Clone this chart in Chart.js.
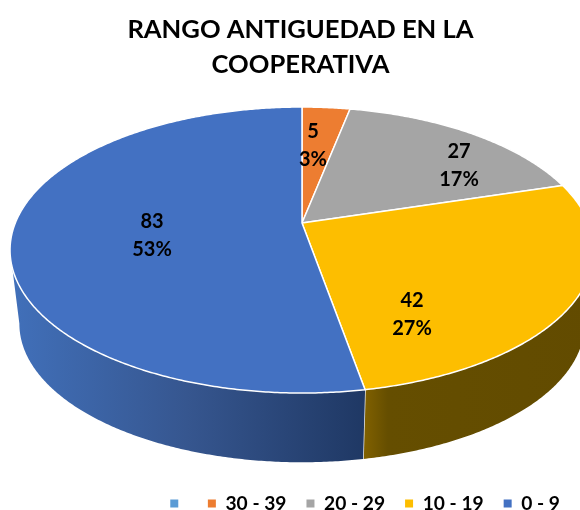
<!DOCTYPE html>
<html lang="es">
<head>
<meta charset="utf-8">
<title>Rango antiguedad en la cooperativa</title>
<script src="https://cdn.jsdelivr.net/npm/chart.js@4.4.1/dist/chart.umd.js"></script>
<style>
  html, body { margin: 0; padding: 0; background: #fff; }
  canvas { display: block; }
</style>
</head>
<body>
<canvas id="pieChart" width="580" height="510"></canvas>
<script>
const titleLines = ['RANGO ANTIGUEDAD EN LA', 'COOPERATIVA'];
const categories = ['', '30 - 39', '20 - 29', '10 - 19', '0 - 9'];
const values = [0, 5, 27, 42, 83];
const sliceColors = ['#5b9bd5', '#ed7d31', '#a5a5a5', '#fdbe00', '#4371c2'];

// Camera of the tilted pie: top disc, then the lower disc scaled from it
const view = { cx: 302, cy: 223, rx: 286.7, ry: 137.9, tilt: 0.189, shrink: 0.968, drop: 81.8 };
// The wall can only be seen between these two angles
const wallFrom = Math.PI / 2 - Math.acos(view.tilt);
const wallTo = Math.PI - wallFrom;

// Label centres, one per category
const labelSpots = [null, [313, 145], [459, 165], [412, 314], [152, 235]];

// Wall shading, left to right
const wallStops = {
  3: [[0, '#7f6000'], [0.1, '#654e00'], [1, '#624b00']],
  4: [[0, '#4170ba'], [0.5, '#36568f'], [1, '#1f3864']]
};

function project(angle, radius, lower) {
  const u = Math.cos(angle) * radius;
  const v = Math.sin(angle) * radius;
  const w = 1 - view.tilt * v;
  const x = view.cx + view.rx * u / w;
  const y = view.cy + view.ry * v / w;
  if (!lower) return [x, y];
  return [view.cx + view.shrink * (x - view.cx), view.shrink * y + view.drop];
}

function traceEdge(ctx, from, to, lower) {
  const steps = Math.max(2, Math.ceil(Math.abs(to - from) * 120));
  for (let i = 0; i <= steps; i++) {
    const p = project(from + (to - from) * i / steps, 1, lower);
    ctx.lineTo(p[0], p[1]);
  }
}

const perspectivePie = {
  id: 'perspectivePie',
  beforeDatasetsDraw(chart) {
    const ctx = chart.ctx;
    const arcs = chart.getDatasetMeta(0).data;
    ctx.save();
    ctx.lineJoin = 'round';

    // Walls first, the discs go on top of them
    arcs.forEach((arc, i) => {
      const from = Math.max(arc.startAngle, wallFrom);
      const to = Math.min(arc.endAngle, wallTo);
      if (to <= from || !wallStops[i]) return;
      const xa = project(from, 1, false)[0];
      const xb = project(to, 1, false)[0];
      const grad = ctx.createLinearGradient(Math.min(xa, xb), 0, Math.max(xa, xb), 0);
      wallStops[i].forEach(s => grad.addColorStop(s[0], s[1]));
      ctx.beginPath();
      traceEdge(ctx, from, to, false);
      traceEdge(ctx, to, from, true);
      ctx.closePath();
      ctx.fillStyle = grad;
      ctx.fill();
      // Seam between two walls
      if (arc.endAngle < wallTo) {
        const a = project(arc.endAngle, 1, false);
        const b = project(arc.endAngle, 1, true);
        ctx.beginPath();
        ctx.moveTo(a[0], a[1]);
        ctx.lineTo(b[0], b[1]);
        ctx.strokeStyle = '#e8e8e8';
        ctx.lineWidth = 1.5;
        ctx.stroke();
      }
    });

    // Top disc, one wedge per element computed by the controller
    arcs.forEach(arc => {
      if (arc.endAngle <= arc.startAngle) return;
      ctx.beginPath();
      ctx.moveTo(view.cx, view.cy);
      traceEdge(ctx, arc.startAngle, arc.endAngle, false);
      ctx.closePath();
      ctx.fillStyle = arc.options.backgroundColor;
      ctx.fill();
      ctx.strokeStyle = arc.options.borderColor;
      ctx.lineWidth = arc.options.borderWidth;
      ctx.stroke();
    });

    // Value and percent labels
    const total = values.reduce((a, b) => a + b, 0);
    ctx.fillStyle = '#000';
    ctx.font = 'bold 20px Lato';
    ctx.textAlign = 'center';
    ctx.textBaseline = 'middle';
    values.forEach((v, i) => {
      if (!labelSpots[i]) return;
      const spot = labelSpots[i];
      ctx.fillText(String(v), spot[0], spot[1] - 13);
      ctx.fillText(Math.round(v / total * 100) + '%', spot[0], spot[1] + 15);
    });

    ctx.restore();
    return false;
  }
};

new Chart(document.getElementById('pieChart'), {
  type: 'pie',
  data: {
    labels: categories,
    datasets: [{
      data: values,
      backgroundColor: sliceColors,
      borderColor: '#ffffff',
      borderWidth: 1.5
    }]
  },
  options: {
    responsive: false,
    animation: false,
    layout: { padding: { left: 21, right: 0, top: 0, bottom: -13 } },
    plugins: {
      title: {
        display: true,
        text: titleLines,
        color: '#000',
        font: { family: 'Lato', size: 25.6, weight: 'bold', lineHeight: 1.38 },
        padding: { top: 12, bottom: 0 }
      },
      legend: {
        position: 'bottom',
        align: 'end',
        labels: {
          color: '#000',
          font: { family: 'Lato', size: 19.2, weight: 'bold' },
          boxWidth: 8,
          boxHeight: 8,
          padding: 20,
          generateLabels(chart) {
            return Chart.overrides.doughnut.plugins.legend.labels.generateLabels(chart)
              .map(item => ({ ...item, lineWidth: 0 }));
          }
        }
      },
      tooltip: { enabled: false }
    }
  },
  plugins: [perspectivePie]
});
</script>
</body>
</html>
